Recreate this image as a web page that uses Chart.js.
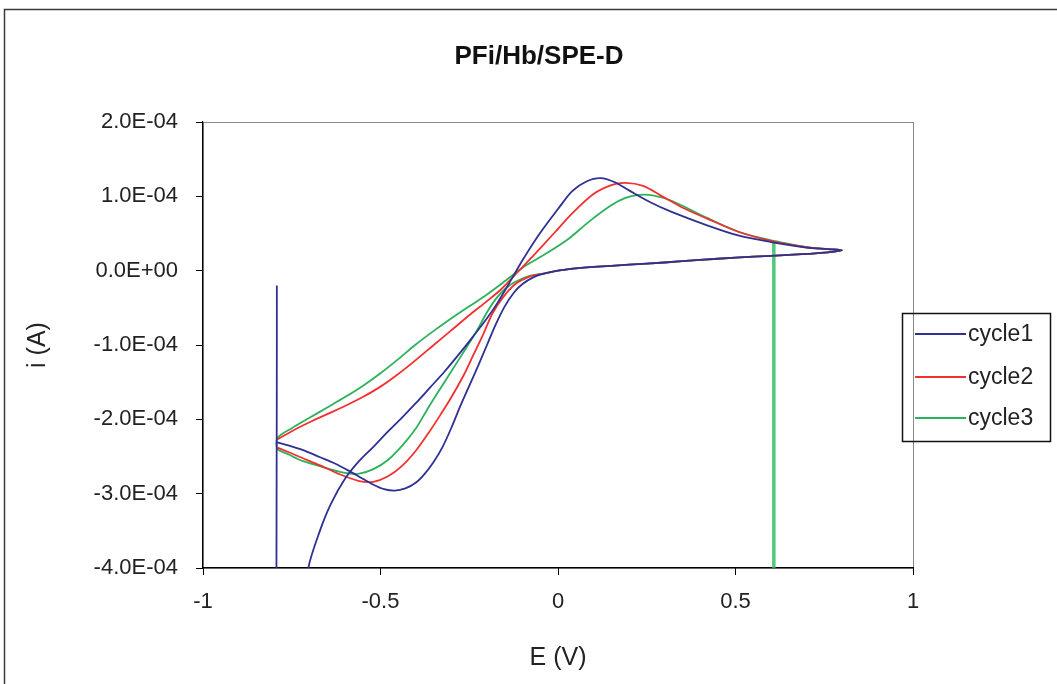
<!DOCTYPE html>
<html>
<head>
<meta charset="utf-8">
<script src="https://cdn.jsdelivr.net/npm/chart.js@4.4.1/dist/chart.umd.min.js"></script>
<style>
  html, body { margin: 0; padding: 0; background: #ffffff; }
  canvas { display: block; }
</style>
</head>
<body>
<canvas id="cv" width="1057" height="684"></canvas>
<script>
// Text
const chartTitle = 'PFi/Hb/SPE-D';
const xAxisTitle = 'E (V)';
const yAxisTitle = 'i (A)';
const seriesNames = ['cycle1', 'cycle2', 'cycle3'];
const seriesColors = ['#2e3192', '#f23030', '#2bb25a'];

// Axis ticks
const xTickValues = [-1, -0.5, 0, 0.5, 1];
const yTickValues = [2e-4, 1e-4, 0, -1e-4, -2e-4, -3e-4, -4e-4];

// Cycle 1: potential (V) and current (µA), starting spike, anodic scan, cathodic return
const cycle1E = [-0.792, -0.790, -0.74, -0.703, -0.67, -0.64, -0.60, -0.56, -0.52, -0.48,
  -0.44, -0.40, -0.36, -0.32, -0.28, -0.24, -0.20, -0.17, -0.14, -0.10,
  -0.05, 0.00, 0.04, 0.08, 0.12, 0.16, 0.20, 0.26, 0.32, 0.42,
  0.51, 0.60, 0.70, 0.76, 0.80,
  0.76, 0.70, 0.60, 0.50, 0.40, 0.30, 0.20, 0.10, 0.05, 0.00,
  -0.04, -0.07, -0.10, -0.125, -0.15, -0.175, -0.20, -0.225, -0.25, -0.275,
  -0.30, -0.325, -0.35, -0.375, -0.40, -0.43, -0.46, -0.49, -0.52, -0.55,
  -0.59, -0.63, -0.67, -0.72, -0.76, -0.79];
const cycle1I = [-20, -1200, -520, -399, -349, -314, -280, -256, -237, -217,
  -198, -178, -157, -136, -113, -89, -64, -43, -19, 14,
  51, 83, 107, 120, 124.5, 119, 108, 92, 79, 61,
  47, 38.5, 31, 29, 27.5,
  24.5, 22.5, 20, 17.5, 14.5, 11, 8, 5, 3, 0,
  -4, -9, -18, -30, -48, -72, -100, -128, -155, -182,
  -211, -237, -257, -273, -285, -293, -296, -294, -288, -280,
  -269, -259, -251, -241, -235, -231];

// Cycle 2
const cycle2E = [-0.79, -0.75, -0.70, -0.65, -0.60, -0.55, -0.50, -0.45, -0.40, -0.35,
  -0.30, -0.25, -0.20, -0.16, -0.12, -0.07, -0.01, 0.04, 0.10, 0.15,
  0.19, 0.24, 0.29, 0.35, 0.42, 0.51, 0.60, 0.70, 0.76, 0.80,
  0.76, 0.70, 0.60, 0.50, 0.40, 0.30, 0.20, 0.10, 0.05, 0.00,
  -0.04, -0.08, -0.12, -0.155, -0.185, -0.21, -0.24, -0.265, -0.30, -0.33,
  -0.36, -0.40, -0.44, -0.48, -0.52, -0.56, -0.62, -0.67, -0.72, -0.76, -0.79];
const cycle2I = [-227, -216, -204, -193, -182, -170, -156, -139, -120, -100,
  -80, -60, -41, -25, -5, 20, 51, 77, 103, 115,
  118, 114, 101, 85, 70, 52, 40, 31.5, 29, 27.5,
  24.5, 22.5, 20, 17.5, 14.5, 11, 8, 5, 3, 0,
  -4, -8, -18, -36, -58, -85, -115, -140, -170, -193,
  -215, -242, -263, -277, -284, -283, -273, -262, -252, -244, -238];

// Cycle 3: begins on the anodic tail, ends with the stop spike at 0.608 V
const cycle3E = [0.608, 0.70, 0.76, 0.80,
  0.76, 0.70, 0.60, 0.50, 0.40, 0.30, 0.20, 0.10, 0.05, 0.00,
  -0.04, -0.08, -0.12, -0.15, -0.175, -0.20, -0.23, -0.26, -0.30, -0.34,
  -0.37, -0.40, -0.44, -0.48, -0.52, -0.56, -0.60, -0.65, -0.72, -0.76, -0.79,
  -0.79, -0.75, -0.70, -0.65, -0.60, -0.55, -0.50, -0.45, -0.40, -0.35,
  -0.30, -0.25, -0.20, -0.16, -0.10, -0.03, 0.03, 0.09, 0.15, 0.19,
  0.23, 0.27, 0.32, 0.42, 0.51, 0.608, 0.608, 0.608];
const cycle3I = [40, 31.5, 29, 27.5,
  24.5, 22.5, 20, 17.5, 14.5, 11, 8, 5, 3, 0,
  -4, -7, -15, -25, -38, -56, -82, -105, -135, -165,
  -188, -212, -236, -255, -267, -273, -272, -266, -256, -247, -240,
  -225, -212, -198, -184, -170, -155, -138, -119, -99, -81,
  -64, -48, -32, -18, 4, 24, 43, 67, 88, 98,
  102, 101, 94, 71, 52, 40, 40, -1500];

const MICRO = 1e-6;
function toPoints(es, is) {
  return es.map((e, k) => ({ x: e, y: is[k] * MICRO }));
}

function sciLabel(v) {
  if (Math.abs(v) < 1e-12) return '0.0E+00';
  let e = Math.floor(Math.log10(Math.abs(v)) + 1e-9);
  let m = Math.round(v / Math.pow(10, e) * 10) / 10;
  if (Math.abs(m) >= 10) { m /= 10; e += 1; }
  return m.toFixed(1) + 'E' + (e < 0 ? '-' : '+') + String(Math.abs(e)).padStart(2, '0');
}

const FONT = 'Arial, "Liberation Sans", sans-serif';

// Plot frame, outer chart border, titles and the boxed legend
const decor = {
  id: 'decor',
  beforeDraw(chart) {
    const ctx = chart.ctx;
    const a = chart.chartArea;
    ctx.save();
    ctx.fillStyle = '#ffffff';
    ctx.fillRect(0, 0, chart.width, chart.height);
    ctx.strokeStyle = '#3a3a3a';
    ctx.lineWidth = 1.5;
    ctx.strokeRect(4.5, 9.5, 1200, 800);
    ctx.strokeStyle = '#8a8a8a';
    ctx.lineWidth = 1;
    ctx.strokeRect(Math.round(a.left) + 0.5, Math.round(a.top) + 0.5,
      Math.round(a.right - a.left), Math.round(a.bottom - a.top));
    ctx.restore();
  },
  afterDraw(chart) {
    const ctx = chart.ctx;
    const a = chart.chartArea;
    ctx.save();
    ctx.fillStyle = '#111111';
    ctx.textAlign = 'center';
    ctx.textBaseline = 'middle';
    ctx.font = 'bold 26px ' + FONT;
    ctx.fillText(chartTitle, 539, 57);
    ctx.font = '25px ' + FONT;
    ctx.fillStyle = '#222222';
    ctx.fillText(xAxisTitle, (a.left + a.right) / 2, 658);
    ctx.save();
    ctx.translate(38, (a.top + a.bottom) / 2);
    ctx.rotate(-Math.PI / 2);
    ctx.fillText(yAxisTitle, 0, 0);
    ctx.restore();

    // legend
    const bx = 902, by = 313, bw = 148, bh = 128;
    ctx.strokeStyle = '#111111';
    ctx.lineWidth = 1.5;
    ctx.strokeRect(bx + 0.5, by + 0.5, bw, bh);
    const rows = [334, 377, 418];
    chart.data.datasets.forEach((ds, k) => {
      ctx.strokeStyle = ds.borderColor;
      ctx.lineWidth = 2;
      ctx.beginPath();
      ctx.moveTo(915, rows[k]);
      ctx.lineTo(966, rows[k]);
      ctx.stroke();
      ctx.fillStyle = '#222222';
      ctx.textAlign = 'left';
      ctx.font = '23px ' + FONT;
      ctx.fillText(ds.label, 968, rows[k] + 1);
    });
    ctx.restore();
  }
};

const datasets = [
  { label: seriesNames[0], data: toPoints(cycle1E, cycle1I), borderColor: seriesColors[0] },
  { label: seriesNames[1], data: toPoints(cycle2E, cycle2I), borderColor: seriesColors[1] },
  {
    label: seriesNames[2], data: toPoints(cycle3E, cycle3I), borderColor: seriesColors[2],
    segment: {
      borderWidth: c => (c.p1.parsed.y < -4e-4 ? 3.5 : undefined),
      borderColor: c => (c.p1.parsed.y < -4e-4 ? 'rgba(52,190,100,0.85)' : undefined)
    }
  }
].map(d => Object.assign({
  showLine: true, fill: false, pointRadius: 0, pointHoverRadius: 0,
  borderWidth: 1.8, tension: 0.3
}, d));

const tickFont = { family: FONT, size: 22 };

new Chart(document.getElementById('cv'), {
  type: 'scatter',
  data: { datasets },
  plugins: [decor],
  options: {
    responsive: false,
    animation: false,
    devicePixelRatio: 1,
    layout: { padding: { top: 122, right: 144, left: 0, bottom: 0 } },
    plugins: { legend: { display: false }, tooltip: { enabled: false }, title: { display: false } },
    scales: {
      x: {
        type: 'linear', min: -1, max: 1,
        afterBuildTicks: s => { s.ticks = xTickValues.map(v => ({ value: v })); },
        afterFit: s => { s.height = 116; },
        grid: { display: true, drawOnChartArea: false, drawTicks: true, tickLength: 7, color: '#000000', lineWidth: 1 },
        border: { display: true, color: '#000000', width: 1.2 },
        ticks: { font: tickFont, color: '#222222', padding: 14, maxRotation: 0, autoSkip: false,
          callback: v => String(v) }
      },
      y: {
        type: 'linear', min: -4e-4, max: 2e-4,
        afterBuildTicks: s => { s.ticks = yTickValues.map(v => ({ value: v })); },
        afterFit: s => { s.width = 203; },
        grid: { display: true, drawOnChartArea: false, drawTicks: true, tickLength: 7, color: '#000000', lineWidth: 1 },
        border: { display: true, color: '#000000', width: 1.2 },
        ticks: { font: tickFont, color: '#222222', padding: 18, autoSkip: false,
          callback: v => sciLabel(v) }
      }
    }
  }
});
</script>
</body>
</html>
